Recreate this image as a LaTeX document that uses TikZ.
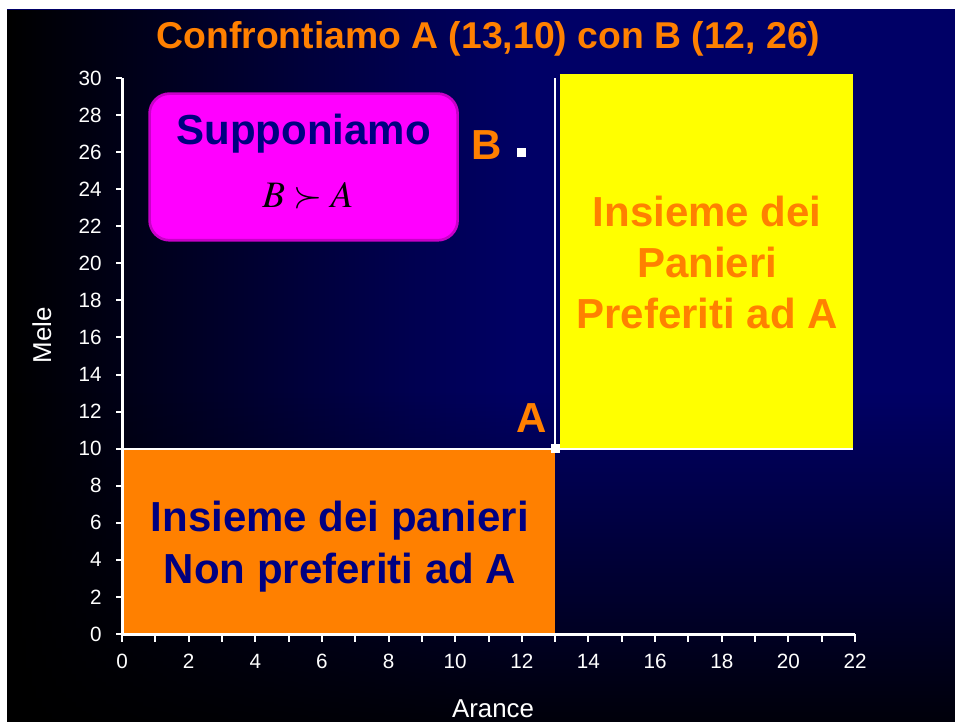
\documentclass[tikz,border=0pt]{standalone}
\usepackage{mathptmx}
\usepackage{fontspec}
\setmainfont{Liberation Sans}
\usetikzlibrary{positioning,fadings}
\definecolor{cfNavy}{HTML}{000066}
\definecolor{cfOrange}{HTML}{FF8000}
\definecolor{cfYellow}{HTML}{FFFF00}
\definecolor{cfMagenta}{HTML}{FF00FF}
\definecolor{cfMagentaD}{HTML}{C800C8}
\definecolor{cfText}{HTML}{000080}
\tikzfading[name=fadetoright, left color=transparent!0, right color=transparent!100]
\tikzfading[name=fadedown, top color=transparent!100, bottom color=transparent!0]

\begin{document}
\begin{tikzpicture}[x=0.75pt, y=0.75pt,
  every node/.style={inner sep=0pt, text=white, font=\fontsize{15.5}{18}\selectfont},
  bigtext/.style={font=\fontsize{31.5}{38.5}\selectfont\bfseries, align=center},
  axistitle/.style={font=\fontsize{19.4}{23}\selectfont},
  suppbox/.style={
    rectangle, rounded corners=15pt,
    draw=cfMagentaD, line width=2pt, fill=cfMagenta,
    minimum width=231pt, minimum height=110pt
  },
  pointmark/.style={rectangle, fill=white, minimum size=6.75pt},
  axisline/.style={white, line width=2.25pt},
  tickline/.style={white, line width=1.5pt},
  refline/.style={white, line width=1.5pt}
]
 % Background
 \useasboundingbox (0,0) rectangle (955,722);
 \fill[white] (0,0) rectangle (955,722);
 \fill[cfNavy] (7,0) rectangle (955,713);
 \fill[black, path fading=fadetoright] (7,0) rectangle (520,713);
 \fill[black, path fading=fadedown, opacity=0.9] (7,0) rectangle (955,330);

 % Title and axis titles
 \node[bigtext, font=\fontsize{28}{33}\selectfont\bfseries, text=cfOrange, anchor=base]
   (title) at (488.5,673) {Confrontiamo A (13,10) con B (12, 26)};
 \node[axistitle, rotate=90] (mele) at (42,387) {Mele};
 \node[axistitle, anchor=base] (arance) at (493,5) {Arance};

 % Plot area -- units of the axes
 \begin{scope}[shift={(122,88)}, x=24.99pt, y=13.9pt]
  % Sets of baskets
  \fill[cfOrange] (0,0) rectangle (13,10);
  \fill[cfYellow] (13.15,10) rectangle (21.94,30.2);
  \node[bigtext, text=cfText] (notpref) at (6.54,4.72) {Insieme dei panieri\\Non preferiti ad A};
  \node[bigtext, text=cfOrange] (pref) at (17.56,20.05) {Insieme dei\\Panieri\\Preferiti ad A};

  % Axes with ticks
  \coordinate (O) at (0,0);
  \coordinate (xmax) at (22,0);
  \coordinate (ymax) at (0,30);
  \draw[axisline] (O) -- (xmax);
  \draw[axisline] (O) -- (ymax);
  \foreach \i in {0,...,22} \draw[tickline] (\i,0) -- ++(0pt,-6pt);
  \foreach \i in {0,2,...,22}
    \node[anchor=base, yshift=-25.5pt] (x\i) at (\i,0) {\i};
  \foreach \j in {0,2,...,30} {
    \draw[tickline] (0,\j) -- ++(-4.5pt,0pt);
    \node[anchor=east, xshift=-15pt] (y\j) at (0,\j) {\j};
  }

  % Baskets A and B
  \node[pointmark] (ptA) at (13,10) {};
  \node[pointmark] (ptB) at (12,26) {};
  \coordinate (Atop) at (13,30);
  \coordinate (tenL) at (0,10);
  \coordinate (tenR) at (21.94,10);
  \draw[refline] (tenL) -- (tenR);
  \draw[refline] (ptA.center) -- (Atop);
  \node[bigtext, text=cfOrange, anchor=base] (labA) at (12.28,10.85) {A};
  \node[bigtext, text=cfOrange, anchor=base] (labB) at (10.95,25.58) {B};

  % Hypothesis box
  \node[suppbox] (suppbox) at (5.45,25.2) {};
  \node[bigtext, text=cfText, anchor=base] (supp) at (5.45,26.39) {Supponiamo};
  \node[anchor=base, text=black, font=\fontsize{28}{33}\selectfont] (relBA) at (5.58,22.99) {$B\succ A$};
 \end{scope}
\end{tikzpicture}
\end{document}
